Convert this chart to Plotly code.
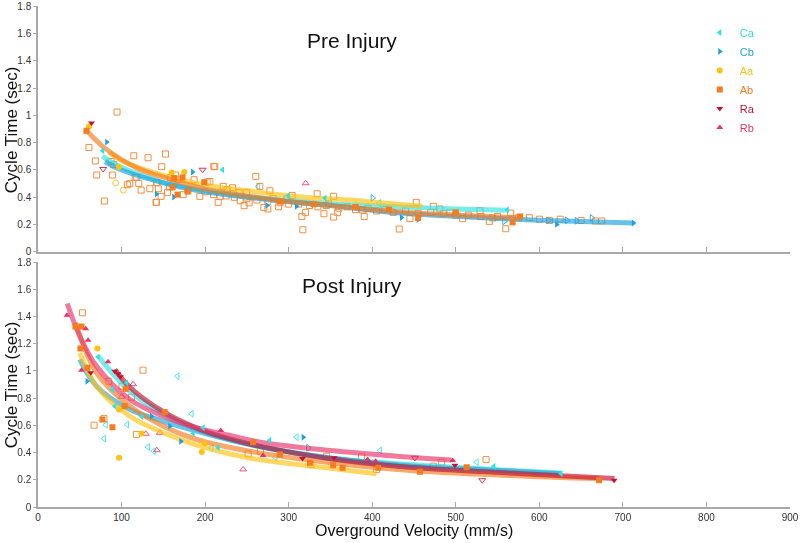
import plotly.graph_objects as go

# ---------------- data ----------------
groups = ["Ca", "Cb", "Aa", "Ab", "Ra", "Rb"]
colors = {"Ca": "#2EE3E3", "Cb": "#1CA3DE", "Aa": "#FFC20E", "Ab": "#F47B20",
          "Ra": "#C8102E", "Rb": "#E8336A"}
symbols = {"Ca": "triangle-left", "Cb": "triangle-right", "Aa": "circle",
           "Ab": "square", "Ra": "triangle-down", "Rb": "triangle-up"}

# ---- Pre injury: filled markers ----
pre_Ca_x = [77.5, 220.8, 299.4, 343.4, 561.7]
pre_Ca_y = [0.741, 0.602, 0.412, 0.395, 0.309]
pre_Cb_x = [82.3, 185, 141.8, 162.5, 274, 309.4, 435, 455, 620.8, 712.6]
pre_Cb_y = [0.804, 0.585, 0.424, 0.402, 0.341, 0.334, 0.253, 0.238, 0.202, 0.212]
pre_Aa_x = [61, 96.7, 160, 175]
pre_Aa_y = [0.919, 0.622, 0.582, 0.585]
pre_Ab_x = [58, 163, 173, 167, 179, 161, 199, 290, 330, 380, 420, 455, 500, 568, 577]
pre_Ab_y = [0.887, 0.541, 0.546, 0.42, 0.443, 0.473, 0.51, 0.37, 0.35, 0.33, 0.31, 0.249, 0.29, 0.217, 0.26]
pre_Ra_x = [64]
pre_Ra_y = [0.944]
pre_Rb_x = []
pre_Rb_y = []

# ---- Pre injury: open markers ----
pre_Ca_ox = [263.5, 408.4]
pre_Ca_oy = [0.48, 0.358]
pre_Cb_ox = [400.5, 558, 610.8, 633, 644.8, 662.8]
pre_Cb_oy = [0.395, 0.224, 0.231, 0.231, 0.229, 0.249]
pre_Aa_ox = [93, 102]
pre_Aa_oy = [0.505, 0.453]
pre_Ab_ox = [94.6, 61, 68.7, 70.3, 79.5, 89, 87.4, 90.7, 107, 109.8, 114.6, 116.2, 118, 120.6,
             123.4, 131.7, 133.8, 141.3, 142.5, 144.1, 148.1, 152.6, 147.3, 155, 157.4, 158.6,
             161.7, 164.5, 167.7, 173.7, 179.6, 186.8, 193.7, 202.4, 205.6, 210.4, 215.6, 218,
             221.6, 226.3, 232.8, 240.7, 241.9, 246.7, 249.6, 252.7, 260.7, 265.5, 270.3, 275.1,
             277.5, 281.4, 287.9, 297.8, 304.2, 315.8, 317, 320.2, 334.1, 342.2, 347.8, 353.8,
             353.8, 358.6, 388.5, 390.4, 432.3, 452.7, 445.1, 473.1, 508.3, 540.1, 544.2, 559.8,
             565.7, 588, 612, 667, 674.7, 529, 493, 481, 141.8, 141.8, 211.6,
             200, 210, 225, 235, 250, 262, 275, 290, 300, 312, 325, 335, 345, 360, 370, 380,
             395, 405, 415, 425, 440, 455, 470, 485, 500, 515, 530, 550, 575, 600, 625, 650]
pre_Ab_oy = [1.024, 0.765, 0.666, 0.563, 0.373, 0.563, 0.663, 0.639, 0.492, 0.5, 0.704, 0.546, 0.546, 0.502,
             0.453, 0.69, 0.463, 0.363, 0.507, 0.463, 0.624, 0.717, 0.407, 0.436, 0.475, 0.546,
             0.495, 0.563, 0.529, 0.419, 0.448, 0.529, 0.407, 0.512, 0.516, 0.626, 0.363, 0.407,
             0.48, 0.456, 0.47, 0.436, 0.375, 0.339, 0.436, 0.36, 0.553, 0.48, 0.326, 0.315,
             0.448, 0.39, 0.331, 0.39, 0.414, 0.26, 0.163, 0.29, 0.426, 0.28, 0.353, 0.407,
             0.256, 0.29, 0.307, 0.26, 0.168, 0.363, 0.244, 0.334, 0.244, 0.224, 0.249, 0.17,
             0.285, 0.251, 0.231, 0.227, 0.227, 0.302, 0.287, 0.315, 0.509, 0.363, 0.624,
             0.44, 0.42, 0.41, 0.40, 0.39, 0.38, 0.37, 0.36, 0.35, 0.35, 0.34, 0.33, 0.34, 0.32, 0.33, 0.31,
             0.32, 0.30, 0.31, 0.29, 0.30, 0.28, 0.29, 0.28, 0.27, 0.27, 0.26, 0.26, 0.25, 0.24, 0.24, 0.23]
pre_Ra_ox = [78, 197]
pre_Ra_oy = [0.607, 0.602]
pre_Rb_ox = [320.3]
pre_Rb_oy = [0.503]

# ---- Pre injury: fitted curves ----
pre_fit = {
    "Ca": ([77, 100, 150, 200, 260, 313, 360, 433, 500, 561],
           [0.70, 0.62, 0.51, 0.45, 0.40, 0.37, 0.35, 0.33, 0.315, 0.305]),
    "Cb": ([80, 100, 160, 200, 280, 357, 433, 553, 620, 712],
           [0.66, 0.60, 0.49, 0.44, 0.38, 0.335, 0.285, 0.245, 0.228, 0.212]),
    "Aa": ([85, 100, 150, 200, 260, 313, 373, 420, 460],
           [0.73, 0.67, 0.56, 0.49, 0.44, 0.405, 0.38, 0.355, 0.335]),
    "Ab": ([58, 80, 120, 160, 200, 250, 300, 360, 430, 500, 577],
           [0.89, 0.76, 0.61, 0.53, 0.46, 0.41, 0.37, 0.335, 0.295, 0.27, 0.25]),
}

# ---- Post injury: filled markers ----
post_Ca_x = [71.9, 89.1, 91.9, 105.9, 124.2, 197.6, 185.7, 215.6, 277.4, 545.7, 626]
post_Ca_y = [1.103, 0.863, 0.741, 0.912, 0.663, 0.582, 0.54, 0.435, 0.491, 0.3, 0.244]
post_Cb_x = [58.7, 135.8, 170.9, 317.4, 157.7]
post_Cb_y = [0.924, 0.667, 0.483, 0.513, 0.594]
post_Aa_x = [71.1, 97, 123.8, 97, 196, 199.6]
post_Aa_y = [1.165, 0.716, 0.54, 0.361, 0.405, 0.467]
post_Ab_x = [44.8, 52, 59.2, 50.8, 105, 151.7, 103.8, 77.1, 89.1, 257.5, 289.5, 325.4,
             353.3, 364.5, 407.2, 457.1, 513, 671.5]
post_Ab_y = [1.326, 1.326, 1.023, 1.165, 0.868, 0.697, 0.741, 0.643, 0.586, 0.476, 0.386, 0.325,
             0.307, 0.288, 0.288, 0.259, 0.292, 0.197]
post_Ra_x = [63.1, 91.9, 95.8, 98.7, 316.6, 354.5, 499, 689.5]
post_Ra_y = [0.986, 0.998, 0.979, 0.957, 0.356, 0.361, 0.307, 0.197]
post_Rb_x = [34.7, 57.1, 59.9, 52, 83.8, 218.8, 269.5, 394.5, 404.1, 496.3]
post_Rb_y = [1.409, 1.309, 1.226, 1.005, 1.067, 0.562, 0.378, 0.349, 0.337, 0.342]

# ---- Post injury: open markers ----
post_Ca_ox = [166.9, 81.1, 79, 106.6, 131.6, 138.4, 183.7, 207.6, 309.4, 284, 409.2, 525]
post_Ca_oy = [0.961, 0.604, 0.503, 0.606, 0.44, 0.41, 0.685, 0.435, 0.513, 0.364, 0.415, 0.329]
post_Cb_ox = [323.4]
post_Cb_oy = [0.435]
post_Aa_ox = []
post_Aa_oy = []
post_Ab_ox = [53.2, 125.7, 100.6, 111.8, 84.7, 79, 67.1, 117.8, 251.5, 326.5, 345.4, 387.3,
              405.3, 473.1, 483.1, 536.2, 266.3]
post_Ab_oy = [1.427, 1.005, 0.888, 0.807, 0.924, 0.65, 0.601, 0.533, 0.391, 0.312, 0.373, 0.369,
              0.276, 0.3, 0.329, 0.349, 0.41]
post_Ra_ox = [451.1, 531.7]
post_Ra_oy = [0.361, 0.197]
post_Rb_ox = [113.8, 100.2, 129, 145.7, 142.2, 245.6]
post_Rb_oy = [0.902, 0.81, 0.538, 0.545, 0.417, 0.276]

# ---- Post injury: fitted curves ----
post_fit = {
    "Ca": ([72, 110, 150, 190, 253, 350, 450, 545, 626],
           [1.108, 0.85, 0.685, 0.57, 0.46, 0.36, 0.31, 0.275, 0.25]),
    "Cb": ([50, 70, 110, 150, 190, 253, 350, 450, 545, 626],
           [1.084, 0.888, 0.716, 0.63, 0.557, 0.459, 0.36, 0.30, 0.27, 0.245]),
    "Aa": ([50, 70, 110, 150, 190, 253, 350, 405],
           [1.133, 0.888, 0.667, 0.545, 0.455, 0.36, 0.285, 0.245]),
    "Ab": ([45, 70, 110, 150, 190, 253, 350, 430, 530, 672],
           [1.353, 0.986, 0.741, 0.594, 0.496, 0.41, 0.325, 0.276, 0.24, 0.207]),
    "Ra": ([92, 110, 150, 190, 230, 270, 350, 430, 530, 690],
           [1.01, 0.88, 0.70, 0.58, 0.50, 0.44, 0.355, 0.30, 0.26, 0.21]),
    "Rb": ([35, 50, 70, 110, 150, 190, 230, 270, 350, 430, 495],
           [1.495, 1.255, 1.035, 0.79, 0.667, 0.582, 0.525, 0.472, 0.415, 0.373, 0.345]),
}

x_ticks = [0, 100, 200, 300, 400, 500, 600, 700, 800, 900]
y_ticks = [0, 0.2, 0.4, 0.6, 0.8, 1, 1.2, 1.4, 1.6, 1.8]

pre_filled = {"Ca": (pre_Ca_x, pre_Ca_y), "Cb": (pre_Cb_x, pre_Cb_y), "Aa": (pre_Aa_x, pre_Aa_y),
              "Ab": (pre_Ab_x, pre_Ab_y), "Ra": (pre_Ra_x, pre_Ra_y), "Rb": (pre_Rb_x, pre_Rb_y)}
pre_open = {"Ca": (pre_Ca_ox, pre_Ca_oy), "Cb": (pre_Cb_ox, pre_Cb_oy), "Aa": (pre_Aa_ox, pre_Aa_oy),
            "Ab": (pre_Ab_ox, pre_Ab_oy), "Ra": (pre_Ra_ox, pre_Ra_oy), "Rb": (pre_Rb_ox, pre_Rb_oy)}
post_filled = {"Ca": (post_Ca_x, post_Ca_y), "Cb": (post_Cb_x, post_Cb_y), "Aa": (post_Aa_x, post_Aa_y),
               "Ab": (post_Ab_x, post_Ab_y), "Ra": (post_Ra_x, post_Ra_y), "Rb": (post_Rb_x, post_Rb_y)}
post_open = {"Ca": (post_Ca_ox, post_Ca_oy), "Cb": (post_Cb_ox, post_Cb_oy), "Aa": (post_Aa_ox, post_Aa_oy),
             "Ab": (post_Ab_ox, post_Ab_oy), "Ra": (post_Ra_ox, post_Ra_oy), "Rb": (post_Rb_ox, post_Rb_oy)}

# ---------------- figure ----------------
fig = go.Figure()

def add_panel(filled, opened, fits, xa, ya, legend):
    for g in groups:
        ox, oy = opened[g]
        if ox:
            fig.add_trace(go.Scatter(x=ox, y=oy, mode="markers", xaxis=xa, yaxis=ya,
                                     showlegend=False, hoverinfo="skip",
                                     marker=dict(symbol=symbols[g] + "-open", size=6,
                                                 color=colors[g], line=dict(width=1)),
                                     opacity=0.85))
    for g in groups:
        if g in fits:
            fx, fy = fits[g]
            fig.add_trace(go.Scatter(x=fx, y=fy, mode="lines", xaxis=xa, yaxis=ya,
                                     showlegend=False, hoverinfo="skip",
                                     line=dict(color=colors[g], width=5, shape="spline",
                                               smoothing=1.0),
                                     opacity=0.65))
    for g in groups:
        fx, fy = filled[g]
        fig.add_trace(go.Scatter(x=fx, y=fy, mode="markers", xaxis=xa, yaxis=ya,
                                 name="<span style='color:%s'>%s</span>" % (colors[g], g),
                                 legendgroup=g, showlegend=legend,
                                 marker=dict(symbol=symbols[g], size=6, color=colors[g],
                                             line=dict(width=0))))

add_panel(pre_filled, pre_open, pre_fit, "x", "y", False)
add_panel(post_filled, post_open, post_fit, "x2", "y2", True)

axis_common = dict(showline=True, linecolor="#A8A8A8", linewidth=1.5, showgrid=False,
                   zeroline=False, tickcolor="#A8A8A8", automargin=False,
                   ticklabeloverflow="allow",
                   tickfont=dict(family="Liberation Sans, Arial", size=10, color="#333333"))

fig.update_layout(
    template="simple_white",
    width=800, height=543,
    margin=dict(l=38, r=10, t=6, b=36, autoexpand=False),
    paper_bgcolor="white", plot_bgcolor="white",
    font=dict(family="Liberation Sans, Arial", color="#111111"),
    xaxis=dict(domain=[0, 1], anchor="y", range=[0, 900], tickvals=x_ticks,
               showticklabels=False, ticks="inside", ticklen=5, **axis_common),
    yaxis=dict(domain=[0.509, 1], anchor="x", range=[0, 1.8], tickvals=y_ticks,
               ticktext=[str(v) for v in y_ticks], ticks="outside", ticklen=3, **axis_common),
    xaxis2=dict(domain=[0, 1], anchor="y2", range=[0, 900], tickvals=x_ticks,
                ticks="inside", ticklen=5, **axis_common),
    yaxis2=dict(domain=[0, 0.489], anchor="x2", range=[0, 1.8], tickvals=y_ticks,
                ticktext=[str(v) for v in y_ticks], ticks="outside", ticklen=3, **axis_common),
    legend=dict(x=0.88, y=0.976, xanchor="left", yanchor="top",
                bgcolor="rgba(0,0,0,0)", font=dict(size=11),
                tracegroupgap=0, itemwidth=30),
    showlegend=True,
)

ann_font = dict(family="Liberation Sans, Arial", size=21, color="#111111")
fig.add_annotation(text="Pre Injury", xref="paper", yref="paper", x=0.418, y=0.931,
                   xanchor="center", yanchor="middle", showarrow=False, font=ann_font)
fig.add_annotation(text="Post Injury", xref="paper", yref="paper", x=0.418, y=0.442,
                   xanchor="center", yanchor="middle", showarrow=False, font=ann_font)
lab_font = dict(family="Liberation Sans, Arial", size=17, color="#111111")
fig.add_annotation(text="Cycle Time (sec)", xref="paper", yref="paper", x=-0.036, y=0.754,
                   xanchor="center", yanchor="middle",
                   textangle=-90, showarrow=False, font=lab_font)
fig.add_annotation(text="Cycle Time (sec)", xref="paper", yref="paper", x=-0.036, y=0.245,
                   xanchor="center", yanchor="middle",
                   textangle=-90, showarrow=False, font=lab_font)
fig.add_annotation(text="Overground Velocity (mm/s)", xref="paper", yref="paper", x=0.5, y=-0.046,
                   xanchor="center", yanchor="middle", showarrow=False,
                   font=dict(family="Liberation Sans, Arial", size=16, color="#111111"))

fig.write_html("out.html", config={"displayModeBar": False},
               post_script="document.body.style.margin='0px';")
